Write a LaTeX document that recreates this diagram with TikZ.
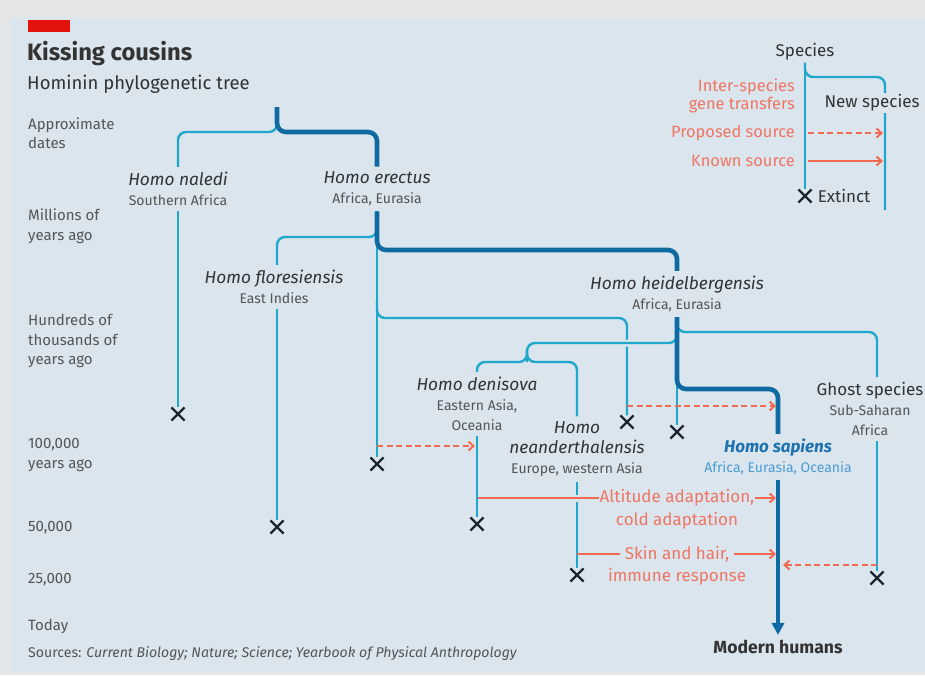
\documentclass[tikz,border=0pt]{standalone}
\usepackage{fontspec}
\setmainfont{Fira Sans}
\usetikzlibrary{positioning}
\usetikzlibrary{arrows.meta}
\usetikzlibrary{shapes.misc}
\definecolor{outerbg}{HTML}{E4E6E8}
\definecolor{panel}{HTML}{DAE5EE}
\definecolor{econred}{HTML}{E3120B}
\definecolor{lightline}{HTML}{1FA8CC}
\definecolor{darkline}{HTML}{0F6AA2}
\definecolor{gene}{HTML}{F26B50}
\definecolor{genetxt}{HTML}{F07562}
\definecolor{nametxt}{HTML}{333333}
\definecolor{regiontxt}{HTML}{555555}
\definecolor{sapname}{HTML}{1E72AE}
\definecolor{sapregion}{HTML}{4A9CD2}
\definecolor{crosscol}{HTML}{1C2630}
\newcommand{\spname}{\fontsize{17.3}{20}\selectfont\itshape\color{nametxt}}

\begin{document}
\begin{tikzpicture}[x=1pt,y=-1pt,>={Straight Barb[length=5pt,width=9pt]}]
	\tikzset{species/.style = {align=center, inner xsep=2pt, inner ysep=5pt, text=regiontxt, font=\fontsize{14}{20}\selectfont},
		axislabel/.style = {anchor=west, align=left, inner sep=0pt, text=regiontxt, font=\fontsize{15}{19.5}\selectfont},
		light/.style = {draw=lightline, line width=2.4pt, rounded corners=8pt},
		dark/.style = {draw=darkline, line width=4.6pt, rounded corners=9pt},
		extinct/.style = {cross out, draw=crosscol, line width=2.2pt, minimum size=11pt, inner sep=0pt},
		transfer/.style = {draw=gene, line width=2pt, ->},
		proposed/.style = {transfer, dash pattern=on 6pt off 3.5pt},
		genelabel/.style = {text=genetxt, inner sep=1pt, font=\fontsize{17}{18}\selectfont},
		keylabel/.style = {inner sep=2pt, text=nametxt, font=\fontsize{17}{18}\selectfont},
		keygene/.style = {anchor=east, align=right, text=genetxt, inner sep=0pt, font=\fontsize{16.4}{18}\selectfont},
		halo/.style = {preaction={draw=panel, line width=7pt}}}
	
	\useasboundingbox (0,0) rectangle (925,675);
	\fill[outerbg] (0,0) rectangle (925,675);
	\fill[panel] (10,18) rectangle (925,672);
	\fill[econred] (28,20) rectangle (70,32);
	
	% headings
	\node[anchor=west, inner sep=0pt, text=nametxt, font=\bfseries\fontsize{23.7}{26}\selectfont] (TITLE) at (27,54) {Kissing cousins};
	\node[anchor=west, inner sep=0pt, text=nametxt, font=\fontsize{18.5}{20}\selectfont] (SUBTITLE) at (27,84) {Hominin phylogenetic tree};
	
	% time axis
	\node[axislabel] (DATES) at (28,133) {Approximate\\dates};
	\node[axislabel] (MILLIONS) at (28,226) {Millions of\\years ago};
	\node[axislabel] (HUNDREDS) at (28,341) {Hundreds of\\thousands of\\years ago};
	\node[axislabel] (HK) at (28,455) {100,000\\years ago};
	\node[axislabel] (FIFTYK) at (28,528) {50,000};
	\node[axislabel] (TWENTYFIVEK) at (28,580) {25,000};
	\node[axislabel] (TODAY) at (28,626) {Today};
	\node[axislabel, font=\fontsize{14.1}{15}\selectfont] (SOURCES) at (28,654) {Sources: \textit{Current Biology; Nature; Science; Yearbook of Physical Anthropology}};
	
	% species
	\node[species] (NALEDI) at (178,189) {{\spname Homo naledi}\\Southern Africa};
	\node[species] (ERECTUS) at (377,189) {{\spname Homo erectus}\\Africa, Eurasia};
	\node[species] (FLORES) at (274,287) {{\spname Homo floresiensis}\\East Indies};
	\node[species] (HEIDEL) at (677,294) {{\spname Homo heidelbergensis}\\Africa, Eurasia};
	\node[species] (DENISOVA) at (477,404) {{\spname Homo denisova}\\Eastern Asia,\\Oceania};
	\node[species] (NEANDER) at (577,449) {{\spname Homo}\\{\spname neanderthalensis}\\Europe, western Asia};
	\node[species] (GHOST) at (870,409) {{\fontsize{17}{20}\selectfont\color{nametxt}Ghost species}\\Sub-Saharan\\Africa};
	\node[species, text=sapregion] (SAPIENS) at (778,457) {{\fontsize{17}{20}\selectfont\bfseries\itshape\color{sapname}Homo sapiens}\\Africa, Eurasia, Oceania};
	\node[species, text=nametxt, font=\bfseries\fontsize{17.6}{18}\selectfont] (MODERN) at (778,647) {Modern humans};
	
	% extinctions
	\node[extinct] (XNALEDI) at (178,414) {};
	\node[extinct] (XERECTUS) at (377,464) {};
	\node[extinct] (XFLORES) at (277,527) {};
	\node[extinct] (XLATE) at (627,422) {};
	\node[extinct] (XHEIDEL) at (677,432) {};
	\node[extinct] (XDENISOVA) at (477,524) {};
	\node[extinct] (XNEANDER) at (577,575) {};
	\node[extinct] (XGHOST) at (877,578) {};
	
	% tree
	\draw[light] (277,107) -- (277,132) -| (NALEDI.north);
	\draw[light] (NALEDI.south) -- (XNALEDI.north);
	\draw[light] (377,226) -- (377,237) -| ([xshift=3pt]FLORES.north);
	\draw[light] ([xshift=3pt]FLORES.south) -- (XFLORES.north);
	\draw[light] (ERECTUS.south) -- (XERECTUS.north);
	\draw[light] (377,300) -- (377,318) -| (XLATE.north);
	\draw[light, halo] (677,328) -- (677,343) -- (527,343) -- (527,362);
	\draw[light] (677,322) -- (677,332) -| ([xshift=7pt]GHOST.north);
	\draw[light] (HEIDEL.south) -- (XHEIDEL.north);
	\draw[light] (527,350) -- (527,362) -| (DENISOVA.north);
	\draw[light] (527,350) -- (527,362) -| (NEANDER.north);
	\draw[light] (NEANDER.south) -- (XNEANDER.north);
	\draw[light] ([xshift=7pt]GHOST.south) -- (XGHOST.north);
	\draw[dark] (277,107) -- (277,132) -| (ERECTUS.north);
	\draw[dark] (ERECTUS.south) -- (377,250) -| (HEIDEL.north);
	\draw[dark] (HEIDEL.south) -- (677,389) -| (SAPIENS.north);
	\draw[dark, -{Triangle[length=12pt,width=12pt]}] (SAPIENS.south) -- (MODERN.north);
	
	% gene transfers
	\coordinate (ERECTUSOUT) at (377,446);
	\coordinate (LATEOUT) at (627,406);
	\coordinate (DENOUT) at (477,498);
	\coordinate (NEANOUT) at (577,554);
	\coordinate (GHOSTOUT) at (877,565);
	\node[genelabel] (ALTITUDE) at (677,498) {Altitude adaptation,};
	\node[genelabel] (COLD) at (677,521) {cold adaptation};
	\node[genelabel] (SKIN) at (677,554) {Skin and hair,};
	\node[genelabel] (IMMUNE) at (677,577) {immune response};
	\draw[proposed] (ERECTUSOUT) -- ([xshift=-2pt]ERECTUSOUT -| DENISOVA.south);
	\draw[proposed] (LATEOUT) -- ([xshift=-2pt]LATEOUT -| SAPIENS.south);
	\draw[transfer, -, halo] (DENOUT) -- (ALTITUDE.west);
	\draw[transfer] (ALTITUDE.east) -- ([xshift=-2pt]ALTITUDE.east -| SAPIENS.south);
	\draw[transfer, -] (NEANOUT) -- ([xshift=-4pt]SKIN.west);
	\draw[transfer] ([xshift=4pt]SKIN.east) -- ([xshift=-2pt]SKIN.east -| SAPIENS.south);
	\draw[proposed] (GHOSTOUT) -- ([xshift=5pt]GHOSTOUT -| SAPIENS.south);
	\draw[light] (DENISOVA.south) -- (XDENISOVA.north);
	
	% key
	\node[keylabel] (SPECIES) at (805,52) {Species};
	\node[extinct] (XKEY) at (805,196) {};
	\coordinate (NEWEND) at (885,210);
	\draw[light] (SPECIES.south) -- (XKEY.north);
	\draw[light] (SPECIES.south) |- (845,77) -| (NEWEND);
	\node[keylabel, fill=panel] (NEWSPECIES) at (872,103) {New species};
	\node[keylabel, right=5pt of XKEY, inner sep=1pt] (EXTINCT) {Extinct};
	\node[keygene] (INTER) at (795,96) {Inter-species\\gene transfers};
	\node[keygene] (PROPOSED) at (795,133) {Proposed source};
	\node[keygene] (KNOWN) at (795,161) {Known source};
	\coordinate (PROPEND) at (883,133);
	\coordinate (KNOWNEND) at (883,161);
	\draw[proposed] ([xshift=13pt]PROPOSED.east) -- (PROPEND);
	\draw[transfer] ([xshift=13pt]KNOWN.east) -- (KNOWNEND);
\end{tikzpicture}
\end{document}
